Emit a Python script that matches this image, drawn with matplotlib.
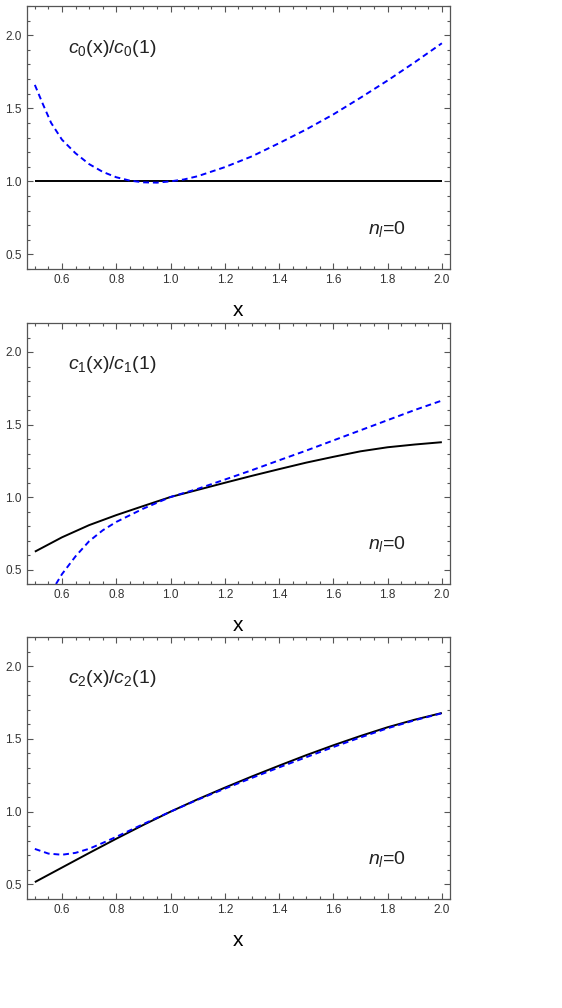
import numpy as np
import matplotlib
matplotlib.use("Agg")
import matplotlib.pyplot as plt
from matplotlib.ticker import MultipleLocator

plt.rcParams['font.family'] = ['Liberation Sans', 'DejaVu Sans']
plt.rcParams['mathtext.fontset'] = 'custom'
plt.rcParams['mathtext.rm'] = 'Liberation Sans'
plt.rcParams['mathtext.it'] = 'Liberation Sans:italic'

# panel 0 : c0(x)/c0(1)
x0_solid = [0.5, 2.0]
y0_solid = [1.0, 1.0]
x0_dash = [0.5, 0.53, 0.56, 0.6, 0.65, 0.7, 0.75, 0.8, 0.85, 0.9, 0.95, 1.0, 1.05, 1.1,
           1.2, 1.3, 1.4, 1.5, 1.6, 1.7, 1.8, 1.9, 2.0]
y0_dash = [1.66, 1.527, 1.40, 1.285, 1.192, 1.118, 1.065, 1.028, 1.005, 0.993, 0.991, 1.0, 1.013, 1.035,
           1.097, 1.171, 1.261, 1.355, 1.458, 1.572, 1.69, 1.815, 1.945]

# panel 1 : c1(x)/c1(1)
x1_solid = [0.5, 0.6, 0.7, 0.8, 0.9, 1.0, 1.1, 1.2, 1.3, 1.4, 1.5, 1.6, 1.7, 1.8, 1.9, 2.0]
y1_solid = [0.623, 0.722, 0.806, 0.875, 0.938, 1.0, 1.049, 1.098, 1.146, 1.192, 1.237, 1.277,
            1.315, 1.343, 1.362, 1.378]
x1_dash = [0.578, 0.6, 0.65, 0.7, 0.75, 0.8, 0.85, 0.9, 0.95, 1.0, 1.1, 1.2, 1.3, 1.4, 1.5,
           1.6, 1.7, 1.8, 1.9, 2.0]
y1_dash = [0.40, 0.468, 0.591, 0.695, 0.77, 0.828, 0.874, 0.92, 0.96, 1.0, 1.056, 1.12, 1.185,
           1.253, 1.32, 1.39, 1.46, 1.53, 1.60, 1.665]

# panel 2 : c2(x)/c2(1)
x2_solid = [0.5, 0.6, 0.7, 0.8, 0.9, 1.0, 1.1, 1.2, 1.3, 1.4, 1.5, 1.6, 1.7, 1.8, 1.9, 2.0]
y2_solid = [0.516, 0.616, 0.716, 0.814, 0.909, 1.0, 1.085, 1.165, 1.242, 1.316, 1.388, 1.456,
            1.52, 1.58, 1.632, 1.678]
x2_dash = [0.5, 0.55, 0.6, 0.65, 0.7, 0.75, 0.8, 0.9, 1.0, 1.1, 1.2, 1.3, 1.4, 1.5, 1.6, 1.7,
           1.8, 1.9, 2.0]
y2_dash = [0.744, 0.712, 0.704, 0.717, 0.745, 0.785, 0.827, 0.915, 1.0, 1.082, 1.158, 1.232,
           1.304, 1.374, 1.444, 1.51, 1.573, 1.628, 1.676]

panels = [
    (x0_solid, y0_solid, x0_dash, y0_dash, r'$c_0$(x)/$c_0$(1)'),
    (x1_solid, y1_solid, x1_dash, y1_dash, r'$c_1$(x)/$c_1$(1)'),
    (x2_solid, y2_solid, x2_dash, y2_dash, r'$c_2$(x)/$c_2$(1)'),
]

W, H = 562, 1008
fig = plt.figure(figsize=(W / 100, H / 100), dpi=100)

# axes boxes in pixels: (top, bottom)
boxes = [(6, 269), (323, 584), (637, 899)]
left_px, right_px = 26.7, 450

frame_col = '#555555'

for (xs, ys, xd, yd, label), (top, bot) in zip(panels, boxes):
    ax = fig.add_axes([left_px / W, 1 - bot / H, (right_px - left_px) / W, (bot - top) / H])
    ax.plot(xs, ys, color='black', lw=1.4, solid_capstyle='butt')
    ax.plot(xd, yd, color='#0000ff', lw=1.4, linestyle=(0, (3, 2)))
    ax.set_xlim(0.47, 2.03)
    ax.set_ylim(0.4, 2.2)
    ax.xaxis.set_major_locator(MultipleLocator(0.2))
    ax.xaxis.set_minor_locator(MultipleLocator(0.05))
    ax.yaxis.set_major_locator(MultipleLocator(0.5))
    ax.yaxis.set_minor_locator(MultipleLocator(0.1))
    ax.tick_params(which='both', direction='in', top=True, right=True, color=frame_col,
                   width=0.8, labelsize=8.5, labelcolor='#333333', pad=3.5)
    ax.tick_params(which='major', length=4)
    ax.tick_params(which='minor', length=2.4)
    for s in ax.spines.values():
        s.set_color(frame_col)
        s.set_linewidth(0.9)
    ax.set_xlabel('x', fontsize=15, labelpad=11)
    ax.text(0.097, 0.84, label, transform=ax.transAxes, fontsize=14, va='center', ha='left',
            color='#222222')
    ax.text(0.806, 0.152, r'$n_l$=0', transform=ax.transAxes, fontsize=14, va='center', ha='left',
            color='#222222')

fig.savefig('out.png', dpi=100)
